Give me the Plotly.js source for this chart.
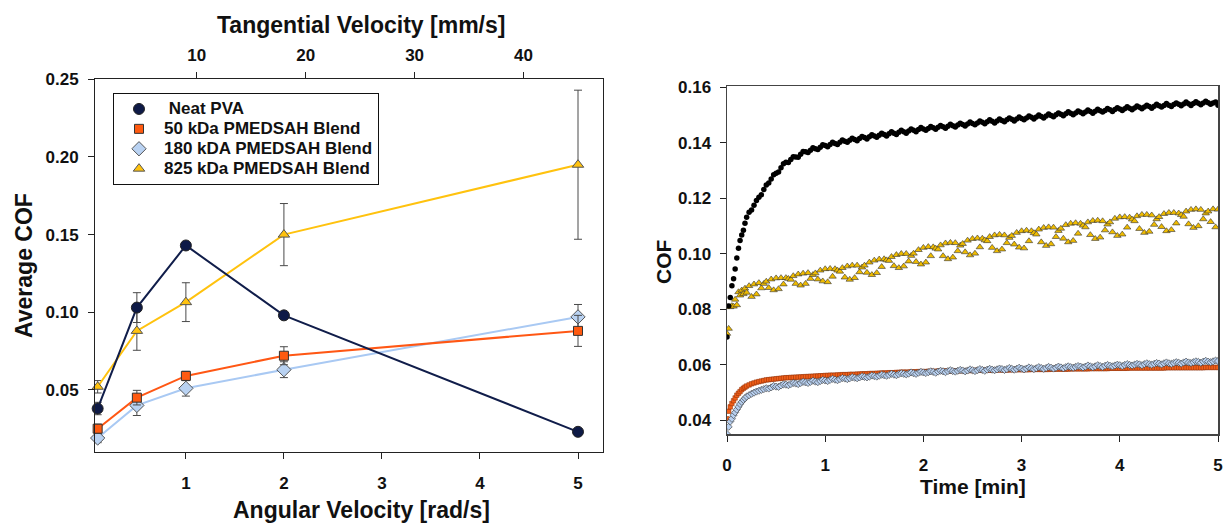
<!DOCTYPE html>
<html><head><meta charset="utf-8">
<script src="https://cdn.plot.ly/plotly-3.0.1.min.js"></script>
<style>html,body{margin:0;padding:0;background:#fff;}#chart{width:1225px;height:523px;}</style>
</head><body><div id="chart"></div>
<script>
// ---------- Left panel: average COF vs angular velocity ----------
const angularVelocity = [0.1, 0.5, 1, 2, 5];
const angularTicks = [1, 2, 3, 4, 5];
const tangentialTicks = [10, 20, 30, 40];
const radiusMm = 9; // tangential [mm/s] = angular [rad/s] * 9 mm
const avgNeatPVA = [0.038, 0.103, 0.143, 0.098, 0.023];
const errNeatPVA = [0.004, 0.0096, 0.002, 0.002, 0.001];
const avg50kDa = [0.025, 0.045, 0.059, 0.072, 0.088];
const err50kDa = [0.003, 0.0047, 0.003, 0.0058, 0.010];
const avg180kDa = [0.019, 0.040, 0.051, 0.063, 0.097];
const err180kDa = [0.003, 0.0065, 0.005, 0.0051, 0.008];
const avg825kDa = [0.052, 0.088, 0.1065, 0.150, 0.195];
const err825kDa = [0.004, 0.0125, 0.0125, 0.020, 0.048];
const legendNames = ['\u00a0Neat PVA', '50 kDa PMEDSAH Blend', '180 kDA PMEDSAH Blend', '825 kDa PMEDSAH Blend'];

// ---------- Right panel: COF vs time ----------
const timeMin = [
0,0.017,0.033,0.05,0.067,0.083,0.1,0.117,0.133,0.15,0.167,0.183,0.2,
0.225,0.25,0.275,0.3,0.325,0.35,0.375,0.4,
0.425,0.45,0.475,0.5,0.525,0.55,0.575,0.6,
0.625,0.65,0.675,0.7,0.725,0.75,0.775,0.8,
0.825,0.85,0.875,0.9,0.925,0.95,0.975,1.0,
1.025,1.05,1.075,1.1,1.125,1.15,1.175,1.2,
1.225,1.25,1.275,1.3,1.325,1.35,1.375,1.4,
1.425,1.45,1.475,1.5,1.525,1.55,1.575,1.6,
1.625,1.65,1.675,1.7,1.725,1.75,1.775,1.8,
1.825,1.85,1.875,1.9,1.925,1.95,1.975,2.0,
2.025,2.05,2.075,2.1,2.125,2.15,2.175,2.2,
2.225,2.25,2.275,2.3,2.325,2.35,2.375,2.4,
2.425,2.45,2.475,2.5,2.525,2.55,2.575,2.6,
2.625,2.65,2.675,2.7,2.725,2.75,2.775,2.8,
2.825,2.85,2.875,2.9,2.925,2.95,2.975,3.0,
3.025,3.05,3.075,3.1,3.125,3.15,3.175,3.2,
3.225,3.25,3.275,3.3,3.325,3.35,3.375,3.4,
3.425,3.45,3.475,3.5,3.525,3.55,3.575,3.6,
3.625,3.65,3.675,3.7,3.725,3.75,3.775,3.8,
3.825,3.85,3.875,3.9,3.925,3.95,3.975,4.0,
4.025,4.05,4.075,4.1,4.125,4.15,4.175,4.2,
4.225,4.25,4.275,4.3,4.325,4.35,4.375,4.4,
4.425,4.45,4.475,4.5,4.525,4.55,4.575,4.6,
4.625,4.65,4.675,4.7,4.725,4.75,4.775,4.8,
4.825,4.85,4.875,4.9,4.925,4.95,4.975,5.0];

const cofNeatPVA = [
0.0700,0.0812,0.0842,0.0885,0.0910,0.0945,0.0985,0.1020,0.1048,0.1068,0.1085,0.1110,0.1132,
0.1150,0.1158,0.1175,0.1192,0.1204,0.1213,0.1232,0.1248,
0.1255,0.1270,0.1285,0.1290,0.1295,0.1310,0.1325,0.1330,
0.1329,0.1340,0.1350,0.1349,0.1348,0.1359,0.1369,0.1368,
0.1365,0.1373,0.1382,0.1379,0.1376,0.1384,0.1393,0.1390,
0.1386,0.1394,0.1402,0.1398,0.1394,0.1402,0.1410,0.1406,
0.1402,0.1409,0.1417,0.1412,0.1408,0.1416,0.1423,0.1419,
0.1414,0.1422,0.1429,0.1425,0.1420,0.1427,0.1435,0.1430,
0.1425,0.1433,0.1440,0.1435,0.1430,0.1438,0.1445,0.1440,
0.1435,0.1443,0.1450,0.1445,0.1440,0.1448,0.1455,0.1450,
0.1445,0.1452,0.1459,0.1454,0.1449,0.1456,0.1463,0.1458,
0.1453,0.1460,0.1467,0.1462,0.1457,0.1464,0.1471,0.1466,
0.1461,0.1468,0.1475,0.1470,0.1465,0.1472,0.1479,0.1474,
0.1469,0.1476,0.1483,0.1478,0.1472,0.1479,0.1486,0.1481,
0.1476,0.1483,0.1490,0.1485,0.1479,0.1486,0.1493,0.1488,
0.1483,0.1490,0.1497,0.1492,0.1486,0.1493,0.1500,0.1495,
0.1490,0.1497,0.1504,0.1499,0.1494,0.1501,0.1508,0.1503,
0.1498,0.1505,0.1512,0.1507,0.1501,0.1508,0.1515,0.1510,
0.1505,0.1511,0.1518,0.1513,0.1507,0.1514,0.1521,0.1516,
0.1511,0.1517,0.1524,0.1519,0.1513,0.1520,0.1527,0.1522,
0.1517,0.1523,0.1530,0.1525,0.1519,0.1526,0.1533,0.1528,
0.1523,0.1529,0.1536,0.1531,0.1525,0.1532,0.1539,0.1534,
0.1529,0.1535,0.1542,0.1536,0.1531,0.1538,0.1544,0.1539,
0.1534,0.1540,0.1547,0.1541,0.1535,0.1542,0.1548,0.1543,
0.1537,0.1544,0.1550,0.1545,0.1539,0.1544,0.1547,0.1536];

const cof825kDa = [
0.0712,0.0730,0.0808,0.0812,0.0810,0.0835,0.0815,0.0862,0.0850,0.0868,0.0855,0.0875,0.0860,
0.0884,0.0845,0.0890,0.0854,0.0895,0.0876,0.0892,0.0900,
0.0877,0.0908,0.0869,0.0912,0.0873,0.0913,0.0890,0.0913,
0.0910,0.0907,0.0920,0.0892,0.0926,0.0886,0.0929,0.0892,
0.0931,0.0910,0.0924,0.0930,0.0908,0.0940,0.0901,0.0945,
0.0898,0.0946,0.0918,0.0945,0.0940,0.0936,0.0949,0.0915,
0.0955,0.0907,0.0958,0.0913,0.0958,0.0934,0.0951,0.0958,
0.0932,0.0969,0.0924,0.0976,0.0931,0.0980,0.0953,0.0981,
0.0977,0.0975,0.0989,0.0956,0.0996,0.0949,0.1000,0.0955,
0.1000,0.0973,0.0993,0.1001,0.0971,0.1014,0.0962,0.1022,
0.0969,0.1025,0.0992,0.1024,0.1019,0.1016,0.1031,0.0992,
0.1038,0.0981,0.1040,0.0987,0.1039,0.1010,0.1030,0.1036,
0.1006,0.1048,0.0995,0.1054,0.1001,0.1056,0.1024,0.1055,
0.1049,0.1046,0.1061,0.1022,0.1067,0.1010,0.1069,0.1016,
0.1067,0.1039,0.1058,0.1065,0.1034,0.1076,0.1023,0.1082,
0.1020,0.1084,0.1046,0.1082,0.1075,0.1070,0.1088,0.1042,
0.1094,0.1029,0.1096,0.1035,0.1095,0.1061,0.1083,0.1091,
0.1055,0.1104,0.1042,0.1109,0.1047,0.1111,0.1073,0.1109,
0.1102,0.1096,0.1114,0.1068,0.1119,0.1054,0.1120,0.1059,
0.1118,0.1085,0.1106,0.1114,0.1078,0.1127,0.1065,0.1132,
0.1070,0.1133,0.1095,0.1131,0.1124,0.1118,0.1136,0.1090,
0.1141,0.1076,0.1141,0.1080,0.1139,0.1105,0.1125,0.1133,
0.1097,0.1144,0.1082,0.1148,0.1086,0.1148,0.1110,0.1146,
0.1140,0.1134,0.1153,0.1107,0.1159,0.1094,0.1161,0.1100,
0.1159,0.1125,0.1146,0.1153,0.1115,0.1161,0.1096,0.1160];

const cof50kDa = [
0.0405,0.0432,0.0448,0.0460,0.0470,0.0480,0.0490,0.0497,0.0503,0.0510,0.0515,0.0519,0.0523,
0.0527,0.0531,0.0534,0.0537,0.0539,0.0541,0.0543,0.0545,
0.0546,0.0547,0.0548,0.0549,0.0550,0.0551,0.0552,0.0553,
0.0553,0.0554,0.0554,0.0555,0.0555,0.0556,0.0556,0.0557,
0.0557,0.0558,0.0558,0.0559,0.0559,0.0560,0.0560,0.0561,
0.0561,0.0562,0.0562,0.0562,0.0563,0.0563,0.0564,0.0564,
0.0564,0.0565,0.0565,0.0565,0.0566,0.0566,0.0567,0.0567,
0.0567,0.0568,0.0568,0.0568,0.0569,0.0569,0.0570,0.0570,
0.0570,0.0571,0.0571,0.0571,0.0572,0.0572,0.0573,0.0573,
0.0573,0.0573,0.0574,0.0574,0.0574,0.0575,0.0575,0.0575,
0.0575,0.0576,0.0576,0.0576,0.0576,0.0577,0.0577,0.0577,
0.0577,0.0577,0.0577,0.0578,0.0578,0.0578,0.0578,0.0578,
0.0578,0.0579,0.0579,0.0579,0.0579,0.0580,0.0580,0.0580,
0.0580,0.0580,0.0580,0.0580,0.0581,0.0581,0.0581,0.0581,
0.0581,0.0581,0.0581,0.0582,0.0582,0.0582,0.0582,0.0582,
0.0582,0.0582,0.0582,0.0583,0.0583,0.0583,0.0583,0.0583,
0.0583,0.0583,0.0583,0.0584,0.0584,0.0584,0.0584,0.0584,
0.0584,0.0584,0.0584,0.0585,0.0585,0.0585,0.0585,0.0585,
0.0585,0.0585,0.0585,0.0586,0.0586,0.0586,0.0586,0.0586,
0.0586,0.0586,0.0586,0.0587,0.0587,0.0587,0.0587,0.0587,
0.0587,0.0587,0.0587,0.0588,0.0588,0.0588,0.0588,0.0588,
0.0588,0.0588,0.0588,0.0588,0.0588,0.0588,0.0588,0.0588,
0.0588,0.0588,0.0589,0.0589,0.0589,0.0589,0.0589,0.0589,
0.0589,0.0589,0.0589,0.0589,0.0589,0.0589,0.0589,0.0589,
0.0589,0.0589,0.0590,0.0590,0.0590,0.0590,0.0590,0.0590];

const cof180kDa = [
0.0350,0.0376,0.0395,0.0405,0.0418,0.0428,0.0438,0.0448,0.0458,0.0466,0.0473,0.0479,0.0485,
0.0490,0.0495,0.0499,0.0503,0.0506,0.0509,0.0512,0.0515,
0.0514,0.0518,0.0523,0.0521,0.0520,0.0525,0.0529,0.0528,
0.0526,0.0530,0.0534,0.0532,0.0530,0.0534,0.0538,0.0536,
0.0534,0.0538,0.0542,0.0539,0.0537,0.0541,0.0545,0.0543,
0.0541,0.0545,0.0549,0.0546,0.0544,0.0548,0.0552,0.0550,
0.0548,0.0551,0.0555,0.0553,0.0551,0.0554,0.0558,0.0556,
0.0554,0.0557,0.0561,0.0559,0.0557,0.0560,0.0564,0.0562,
0.0560,0.0563,0.0567,0.0564,0.0562,0.0566,0.0569,0.0567,
0.0565,0.0568,0.0572,0.0569,0.0567,0.0571,0.0574,0.0572,
0.0570,0.0573,0.0576,0.0574,0.0571,0.0575,0.0578,0.0576,
0.0573,0.0577,0.0580,0.0577,0.0575,0.0578,0.0581,0.0579,
0.0576,0.0579,0.0583,0.0580,0.0577,0.0580,0.0584,0.0581,
0.0578,0.0582,0.0585,0.0582,0.0580,0.0583,0.0586,0.0584,
0.0581,0.0584,0.0588,0.0585,0.0582,0.0585,0.0589,0.0586,
0.0583,0.0586,0.0590,0.0587,0.0584,0.0587,0.0591,0.0588,
0.0585,0.0588,0.0592,0.0589,0.0586,0.0589,0.0593,0.0590,
0.0587,0.0591,0.0594,0.0591,0.0589,0.0592,0.0595,0.0593,
0.0590,0.0593,0.0597,0.0594,0.0591,0.0594,0.0598,0.0595,
0.0592,0.0596,0.0599,0.0596,0.0594,0.0597,0.0600,0.0598,
0.0595,0.0599,0.0602,0.0599,0.0597,0.0600,0.0603,0.0601,
0.0598,0.0602,0.0605,0.0602,0.0600,0.0603,0.0606,0.0604,
0.0601,0.0605,0.0608,0.0605,0.0603,0.0606,0.0609,0.0607,
0.0604,0.0608,0.0611,0.0608,0.0606,0.0609,0.0612,0.0610,
0.0607,0.0611,0.0614,0.0611,0.0609,0.0612,0.0615,0.0613];

const timeTicks = [0, 1, 2, 3, 4, 5];
const cofTicks = [0.04, 0.06, 0.08, 0.10, 0.12, 0.14, 0.16];
const avgCofTicks = [0.05, 0.10, 0.15, 0.20, 0.25];

// ---------- styling ----------
const W = 1225, H = 523;
const fx = p => p / W;
const fy = p => 1 - p / H;
const FAM = 'Liberation Sans, Arial, Helvetica, sans-serif';
const tickFont = {family: FAM, size: 17, color: '#111', weight: 'bold'};
const titleFont = {family: FAM, size: 23, color: '#111', weight: 'bold'};
const titleFontR = {family: FAM, size: 21, color: '#111', weight: 'bold'};

const navy = '#101d4a', orange = '#ff5714', lightBlue = '#a9c9f3', gold = '#ffc20e';
const errStyle = arr => ({type: 'data', array: arr, visible: true, color: '#4a4a4a', thickness: 1, width: 4});

const traces = [];
function leftTrace(y, err, color, symbol, size, fill, outline) {
  return {x: angularVelocity, y: y, type: 'scatter', mode: 'lines+markers', xaxis: 'x', yaxis: 'y',
    line: {color: color, width: 2}, marker: {symbol: symbol, size: size, color: fill, line: {color: outline, width: 1}},
    error_y: errStyle(err), showlegend: false, cliponaxis: false, hoverinfo: 'skip'};
}
traces.push(leftTrace(avg180kDa, err180kDa, lightBlue, 'diamond', 11, '#b9d2f2', '#555'));
traces.push(leftTrace(avg50kDa, err50kDa, orange, 'square', 9, '#ff5a10', '#333'));
traces.push(leftTrace(avg825kDa, err825kDa, gold, 'triangle-up', 10, '#ffc20e', '#555'));
traces.push(leftTrace(avgNeatPVA, errNeatPVA, navy, 'circle', 11, '#0e1a46', '#222'));
// trace giving the top (tangential) axis
traces.push({x: [null], y: [null], xaxis: 'x2', yaxis: 'y', type: 'scatter', mode: 'markers', showlegend: false, hoverinfo: 'skip'});
// legend entries (markers only)
const legendMarkers = [
  {symbol: 'circle', size: 11, color: '#0e1a46', line: {color: '#222', width: 1}},
  {symbol: 'square', size: 9, color: '#ff5a10', line: {color: '#333', width: 1}},
  {symbol: 'diamond', size: 11, color: '#b9d2f2', line: {color: '#555', width: 1}},
  {symbol: 'triangle-up', size: 10, color: '#ffc20e', line: {color: '#555', width: 1}}];
legendNames.forEach((n, i) => traces.push({x: [null], y: [null], xaxis: 'x', yaxis: 'y', type: 'scatter', mode: 'markers',
  name: '<span style="font-size:17px">' + n + '</span>', marker: legendMarkers[i], showlegend: true, hoverinfo: 'skip'}));

// right panel
traces.push({x: timeMin, y: cof825kDa, xaxis: 'x3', yaxis: 'y3', type: 'scatter', mode: 'markers', showlegend: false,
  marker: {symbol: 'triangle-up', size: 6.5, color: '#f0bc00', line: {color: '#333', width: 0.6}}, hoverinfo: 'skip'});
traces.push({x: timeMin, y: cofNeatPVA, xaxis: 'x3', yaxis: 'y3', type: 'scatter', mode: 'markers', showlegend: false,
  marker: {symbol: 'circle', size: 5.5, color: '#000'}, hoverinfo: 'skip'});
traces.push({x: timeMin, y: cof50kDa, xaxis: 'x3', yaxis: 'y3', type: 'scatter', mode: 'markers', showlegend: false,
  marker: {symbol: 'square', size: 4.5, color: '#f2601a', line: {color: '#8a2a00', width: 0.5}}, hoverinfo: 'skip'});
traces.push({x: timeMin, y: cof180kDa, xaxis: 'x3', yaxis: 'y3', type: 'scatter', mode: 'markers', showlegend: false,
  marker: {symbol: 'diamond', size: 5.5, color: '#b8d0f0', line: {color: '#333', width: 0.6}}, hoverinfo: 'skip'});

const xLeftRange = [0.073, 5.255];
const axBase = {showgrid: false, zeroline: false, showline: true, linecolor: '#222', linewidth: 1,
  ticks: 'outside', ticklen: 6, tickcolor: '#222', tickwidth: 1, tickfont: tickFont, ticklabeloverflow: 'allow'};

const layout = {
  width: W, height: H, margin: {l: 0, r: 0, t: 0, b: 0}, paper_bgcolor: '#fff', plot_bgcolor: '#fff',
  showlegend: true,
  legend: {x: fx(113), y: fy(93), xanchor: 'left', yanchor: 'top', bgcolor: '#fff', bordercolor: '#111', borderwidth: 1,
    font: {family: FAM, size: 13, color: '#111', weight: 'bold'}, itemwidth: 40, tracegroupgap: 0},
  xaxis: Object.assign({}, axBase, {domain: [fx(95), fx(603)], anchor: 'y', range: xLeftRange,
    tickmode: 'array', tickvals: angularTicks, ticklabelstandoff: 10}),
  xaxis2: Object.assign({}, axBase, {overlaying: 'x', side: 'top', anchor: 'y',
    range: xLeftRange.map(v => v * radiusMm), tickmode: 'array', tickvals: tangentialTicks, ticklabelstandoff: 4}),
  yaxis: Object.assign({}, axBase, {domain: [fy(452), fy(79)], anchor: 'x', range: [0.01, 0.2502], mirror: true,
    tickmode: 'array', tickvals: avgCofTicks, tickformat: '.2f', ticklabelstandoff: 6}),
  xaxis3: Object.assign({}, axBase, {domain: [fx(727), fx(1218)], anchor: 'y3', range: [0, 5], mirror: true,
    linecolor: '#444', linewidth: 1.5, tickmode: 'array', tickvals: timeTicks, ticklabelstandoff: 9}),
  yaxis3: Object.assign({}, axBase, {domain: [fy(434), fy(86)], anchor: 'x3', range: [0.035, 0.1605], mirror: true,
    linecolor: '#444', linewidth: 1.5, tickmode: 'array', tickvals: cofTicks, tickformat: '.2f', ticklabelstandoff: 5}),
  annotations: [
    {text: 'Tangential Velocity [mm/s]', xref: 'paper', yref: 'paper', x: fx(361), y: fy(25), xanchor: 'center', yanchor: 'middle', showarrow: false, font: titleFont},
    {text: 'Angular Velocity [rad/s]', xref: 'paper', yref: 'paper', x: fx(361), y: fy(510), xanchor: 'center', yanchor: 'middle', showarrow: false, font: titleFont},
    {text: 'Average COF', xref: 'paper', yref: 'paper', x: fx(24), y: fy(266), xanchor: 'center', yanchor: 'middle', textangle: -90, showarrow: false, font: titleFont},
    {text: 'COF', xref: 'paper', yref: 'paper', x: fx(663), y: fy(262), xanchor: 'center', yanchor: 'middle', textangle: -90, showarrow: false, font: titleFontR},
    {text: 'Time [min]', xref: 'paper', yref: 'paper', x: fx(973), y: fy(486), xanchor: 'center', yanchor: 'middle', showarrow: false, font: titleFontR}
  ]
};

Plotly.newPlot('chart', traces, layout, {staticPlot: true, displayModeBar: false});
</script></body></html>
